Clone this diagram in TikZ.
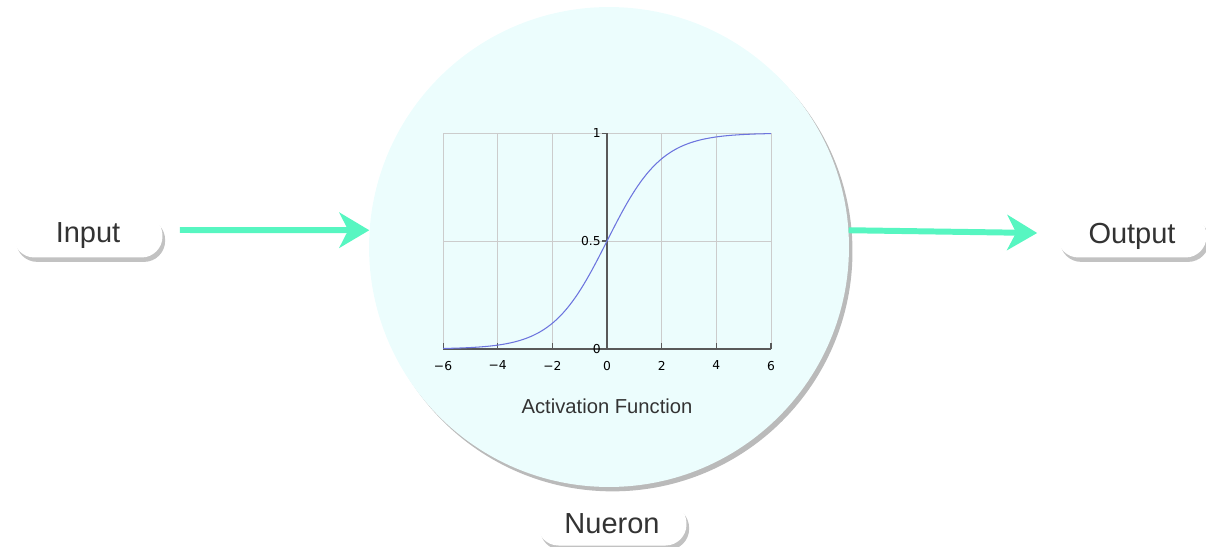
\documentclass[tikz,border=0pt]{standalone}
\usepackage{fontspec}
\setmainfont{Liberation Sans}
\newfontfamily\tickfont{DejaVu Sans}
\usetikzlibrary{arrows.meta,shadows,positioning}
\definecolor{flowgreen}{HTML}{57F6C1}
\definecolor{cellfill}{HTML}{ECFDFD}
\definecolor{sigblue}{HTML}{6C74DE}

\begin{document}
\begin{tikzpicture}[x=0.02cm,y=-0.02cm,
	pill/.style={fill=white,rounded corners=0.42cm,minimum width=2.98cm,minimum height=0.86cm,text=black!80,font=\fontsize{16.5}{18}\selectfont,drop shadow={shadow xshift=1.5pt,shadow yshift=-2.5pt,fill=black!40,opacity=0.6}},
	flow/.style={draw=flowgreen,line width=3.4pt,-{Stealth[length=17pt,width=20pt,inset=5pt]}},
	gridline/.style={draw=black!20,line width=0.5pt},
	axisline/.style={draw=black!65,line width=1pt}]
			\useasboundingbox (0,0) rectangle (1206,547);
			\node[circle,fill=cellfill,minimum size=9.6cm,inner sep=0pt,drop shadow={shadow xshift=2pt,shadow yshift=-2.5pt,fill=black!45,opacity=0.6}] (neuron) at (609,247) {};
			\begin{scope}[shift={(607,349)},x=0.5467cm,y=4.32cm]
			\draw[gridline] (-6,0) grid[xstep=2,ystep=0.5] (6,1);
			\draw[axisline] (-6,0) -- (6,0);
			\draw[axisline] (0,0) -- (0,1);
			\foreach \t/\l in {-6/−6,-4/−4,-2/−2,0/0,2/2,4/4,6/6}
				\draw[axisline,line width=0.6pt] (\t,0) -- (\t,0.03) (\t,-0.045) node[below,inner sep=1pt,text=black,font=\tickfont\fontsize{7}{8}\selectfont] {\l};
			\foreach \v/\l in {0/0,0.5/0.5,1/1}
				\draw[axisline,line width=0.6pt] (0,\v) -- (-0.18,\v) node[left,inner sep=0.5pt,text=black,font=\tickfont\fontsize{7}{8}\selectfont] {\l};
			\draw[sigblue,line width=0.6pt,domain=-6:6,samples=120] plot (\x,{1/(1+exp(-\x))});
			\end{scope}
			\node[text=black!80,font=\fontsize{11.5}{13}\selectfont] (actlabel) at (607,406) {Activation Function};
			\node[pill] (inp) at (88,236) {Input};
			\node[pill] (outp) at (1132,236) {Output};
			\node[pill] (nlabel) at (612,524) {Nueron};
			\draw[flow] ([shift={(17,-6)}]inp.east) -- (neuron.176.4);
			\draw[flow] (neuron.4.3) -- ([shift={(-20,-3)}]outp.west);
			\end{tikzpicture}
\end{document}
